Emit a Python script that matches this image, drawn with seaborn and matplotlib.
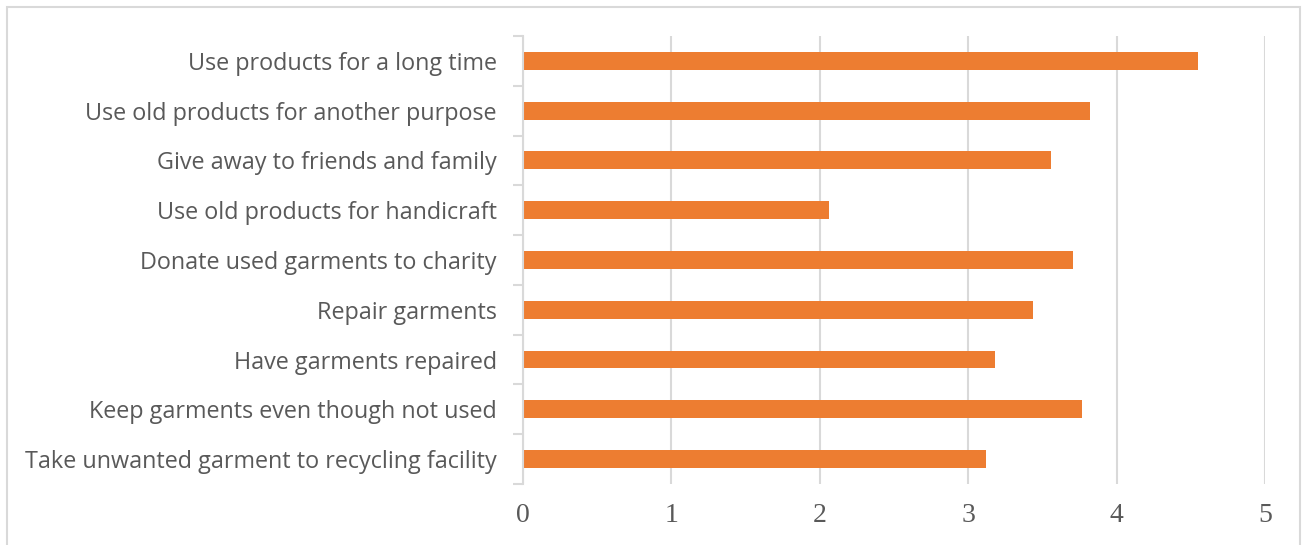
import matplotlib
matplotlib.use("Agg")
import matplotlib.pyplot as plt
import seaborn as sns
import pandas as pd
from matplotlib.patches import Rectangle

categories = [
    "Use products for a long time",
    "Use old products for another purpose",
    "Give away to friends and family",
    "Use old products for handicraft",
    "Donate used garments to charity",
    "Repair garments",
    "Have garments repaired",
    "Keep garments even though not used",
    "Take unwanted garment to recycling facility",
]
values = [4.55, 3.82, 3.56, 2.06, 3.71, 3.44, 3.18, 3.77, 3.12]
x_ticks = [0, 1, 2, 3, 4, 5]

sns.set_theme(style="white")
plt.rcParams["font.family"] = ["Open Sans", "DejaVu Sans"]

fig = plt.figure(figsize=(13.06, 5.45), dpi=100)
ax = fig.add_axes([0.4002, 0.112, 0.5684, 0.822])

df = pd.DataFrame({"cat": categories, "val": values})
sns.barplot(data=df, x="val", y="cat", orient="h", color="#ED7D31",
            width=0.36, saturation=1, ax=ax, linewidth=0)

grid_c = "#D9D9D9"
ax.set_xlim(0, 5)
ax.set_ylim(8.5, -0.5)
ax.set_xticks(x_ticks)
ax.set_xticklabels([str(t) for t in x_ticks], family="Liberation Serif",
                   fontsize=20, color="#595959")
ax.xaxis.grid(True, color=grid_c, linewidth=1.5)
ax.set_axisbelow(True)
ax.tick_params(axis="x", length=0, pad=14)
ax.tick_params(axis="y", which="major", length=0, pad=18.5, labelsize=16.8, labelcolor="#595959")
ax.set_yticks([i - 0.5 for i in range(len(categories) + 1)], minor=True)
ax.tick_params(axis="y", which="minor", length=7, width=1.5, color=grid_c, left=True)
ax.set_xlabel("")
ax.set_ylabel("")
for s in ["top", "right", "bottom"]:
    ax.spines[s].set_visible(False)
ax.spines["left"].set_color(grid_c)
ax.spines["left"].set_linewidth(1.5)

fig.patches.append(Rectangle((7 / 1306, -0.05), 1293 / 1306, 1 + 0.05 - 7 / 545,
                             transform=fig.transFigure, fill=False,
                             edgecolor=grid_c, linewidth=1.5))

fig.savefig("out.png", dpi=100)
